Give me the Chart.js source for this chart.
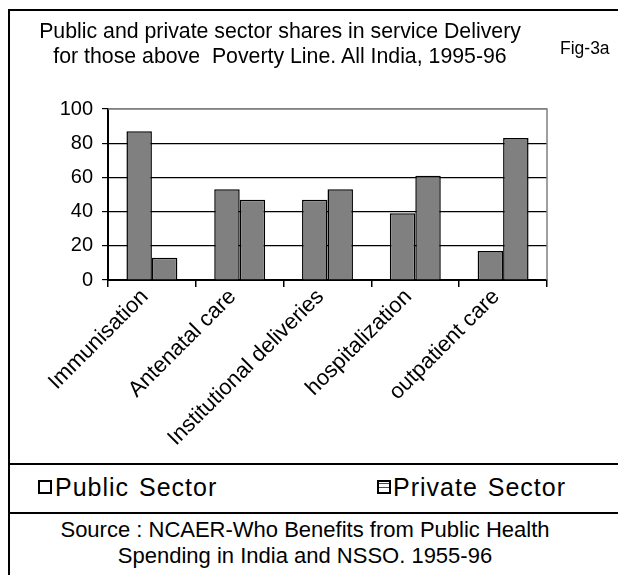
<!DOCTYPE html>
<html>
<head>
<meta charset="utf-8">
<script src="https://cdn.jsdelivr.net/npm/chart.js@4.4.1/dist/chart.umd.min.js"></script>
<style>
  html, body { margin: 0; padding: 0; background: #fff; overflow: hidden; }
  body { width: 618px; height: 575px; position: relative; font-family: "Liberation Sans", Arial, sans-serif; color: #000; }
  #frame { position: absolute; left: 8px; top: 9px; width: 700px; height: 700px; border-left: 2px solid #000; border-top: 2px solid #000; }
  .rule { position: absolute; left: 8px; width: 620px; height: 2px; background: #000; }
  #wrap { position: absolute; left: 0; top: 0; width: 618px; height: 462px; }
  .txt { position: absolute; white-space: pre; }
  #title { left: 0; width: 560px; top: 19px; text-align: center; font-size: 21.3px; line-height: 25px; }
  #fig { left: 560px; top: 38px; font-size: 17.5px; }
  .lg { position: absolute; top: 473px; font-size: 25px; line-height: 28px; white-space: pre; letter-spacing: 1px; word-spacing: 2px; }
  .box { position: absolute; width: 10px; height: 10px; border: 2px solid #000; background: #fff; }
  #box2 { background: linear-gradient(to bottom, #fff 0, #fff 1px, #8b1a8b 1px, #8b1a8b 2px, #fff 2px, #fff 5px, #8b1a8b 5px, #8b1a8b 6px, #fff 6px); }
  #source { left: 0; width: 610px; top: 517px; text-align: center; font-size: 22px; line-height: 26px; }
</style>
</head>
<body>
<div id="frame"></div>
<div class="rule" style="top:463px"></div>
<div class="rule" style="top:512px"></div>
<div id="wrap"><canvas id="c"></canvas></div>
<div id="title" class="txt">Public and private sector shares in service Delivery
for those above  Poverty Line. All India, 1995-96</div>
<div id="fig" class="txt">Fig-3a</div>
<div class="box" style="left:38px; top:480px"></div>
<div class="lg" style="left:55px">Public Sector</div>
<div class="box" id="box2" style="left:377px; top:480px"></div>
<div class="lg" style="left:393px">Private Sector</div>
<div id="source" class="txt">Source : NCAER-Who Benefits from Public Health
Spending in India and NSSO. 1955-96</div>
<script>
// Service categories and the share (%) delivered by each sector
const categories = ['Immunisation', 'Antenatal care', 'Institutional deliveries', 'hospitalization', 'outpatient care'];
const publicSector = [87, 53, 47, 39, 17];
const privateSector = [13, 47, 53, 61, 83];
const yTicks = [0, 20, 40, 60, 80, 100];

const FONT = '"Liberation Sans", Arial, sans-serif';

// Thin grey frame on the top and right of the plot area
const plotFrame = {
  id: 'plotFrame',
  afterDraw(chart) {
    const { ctx, chartArea: a } = chart;
    ctx.save();
    ctx.strokeStyle = '#808080';
    ctx.lineWidth = 1.5;
    ctx.beginPath();
    ctx.moveTo(a.left, a.top);
    ctx.lineTo(a.right, a.top);
    ctx.lineTo(a.right, a.bottom);
    ctx.stroke();
    ctx.restore();
  }
};

const barStyle = {
  backgroundColor: '#808080',
  borderColor: '#000',
  borderWidth: 1.5,
  categoryPercentage: 0.58,
  barPercentage: 1.0
};

new Chart(document.getElementById('c'), {
  type: 'bar',
  data: {
    labels: categories,
    datasets: [
      Object.assign({ label: 'Public Sector', data: publicSector }, barStyle),
      Object.assign({ label: 'Private Sector', data: privateSector }, barStyle)
    ]
  },
  options: {
    responsive: true,
    maintainAspectRatio: false,
    animation: false,
    layout: { padding: { top: 109, right: 71, left: 0, bottom: 0 } },
    plugins: { legend: { display: false }, tooltip: { enabled: false } },
    scales: {
      x: {
        offset: true,
        grid: { offset: true, drawOnChartArea: false, color: '#000', tickLength: 7, lineWidth: 1.5 },
        border: { color: '#000', width: 2 },
        ticks: { color: '#000', minRotation: 45, maxRotation: 45, padding: -3, labelOffset: -7, font: { family: FONT, size: 22 } },
        afterFit(s) { s.height = 182; }
      },
      y: {
        min: 0,
        max: 100,
        afterBuildTicks(s) { s.ticks = yTicks.map(v => ({ value: v })); },
        grid: {
          color: c => (c.tick && c.tick.value === 100 ? '#808080' : '#000'),
          tickColor: '#000',
          lineWidth: 1.2,
          tickLength: 6
        },
        border: { color: '#000', width: 2 },
        ticks: { color: '#000', padding: 9, font: { family: FONT, size: 20 } },
        afterFit(s) { s.width = 108; }
      }
    }
  },
  plugins: [plotFrame]
});
</script>
</body>
</html>
